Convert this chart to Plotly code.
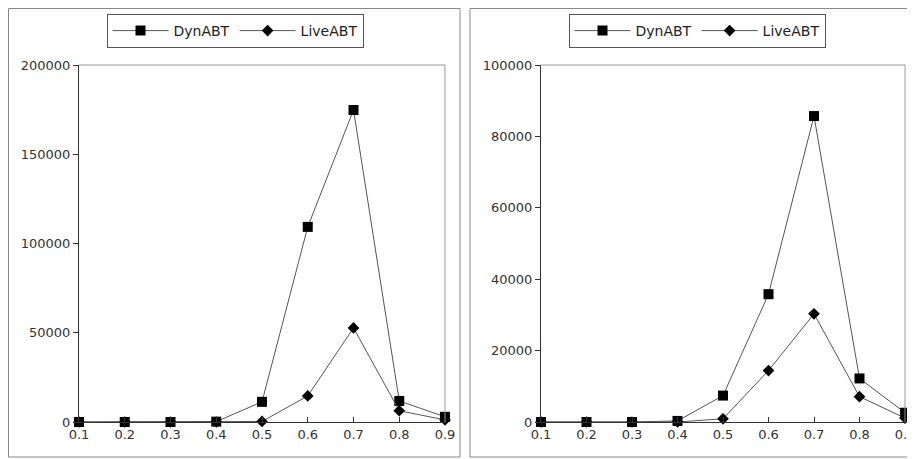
import plotly.graph_objects as go

x_vals = [0.1, 0.2, 0.3, 0.4, 0.5, 0.6, 0.7, 0.8, 0.9]
x_ticks = [0.1, 0.2, 0.3, 0.4, 0.5, 0.6, 0.7, 0.8, 0.9]

dyn_left = [0, 0, 0, 200, 11300, 109300, 174800, 11800, 2900]
live_left = [0, 0, 0, 0, 300, 14600, 52700, 6300, 1200]

dyn_right = [0, 0, 0, 300, 7400, 35800, 85700, 12200, 2600]
live_right = [0, 0, 0, 0, 900, 14400, 30300, 7100, 1100]

left_yticks = [0, 50000, 100000, 150000, 200000]
right_yticks = [0, 20000, 40000, 60000, 80000, 100000]

# page body has an 8px margin; the figure is placed at (8, 8)
OX, OY = 8, 8
W, H = 915 - OX, 459 - OY
FONT = "DejaVu Sans"
LINE_COL = "#555555"

def px(v):
    return (v - OX) / W

def py(v):
    return (H - (v - OY)) / H

fig = go.Figure()

panels = [
    dict(dyn=dyn_left, live=live_left, xa="x", ya="y", leg="legend"),
    dict(dyn=dyn_right, live=live_right, xa="x2", ya="y2", leg="legend2"),
]
for p in panels:
    fig.add_trace(go.Scatter(
        x=x_vals, y=p["dyn"], name="DynABT", mode="lines+markers",
        xaxis=p["xa"], yaxis=p["ya"], legend=p["leg"], cliponaxis=False,
        line=dict(color=LINE_COL, width=1),
        marker=dict(symbol="square", size=10, color="black"),
    ))
    fig.add_trace(go.Scatter(
        x=x_vals, y=p["live"], name="LiveABT", mode="lines+markers",
        xaxis=p["xa"], yaxis=p["ya"], legend=p["leg"], cliponaxis=False,
        line=dict(color=LINE_COL, width=1),
        marker=dict(symbol="diamond", size=9, color="black"),
    ))

axis_common = dict(showgrid=False, zeroline=False, showline=True, automargin=False,
                   linecolor="#333333", linewidth=1, ticklabeloverflow="allow",
                   tickfont=dict(family=FONT, size=13, color="#333333"),
                   ticklen=5, tickcolor="#333333")

legend_common = dict(orientation="h", yanchor="top", xanchor="center",
                     bordercolor="#555555", borderwidth=1, bgcolor="white",
                     itemwidth=56, tracegroupgap=0,
                     font=dict(family=FONT, size=14, color="#222222"))

fig.update_layout(
    width=W, height=H,
    margin=dict(l=0, r=0, t=0, b=0, pad=0, autoexpand=False),
    paper_bgcolor="white", plot_bgcolor="white",
    font=dict(family=FONT, size=13, color="#333333"),
    xaxis=dict(domain=[px(79), px(445)], range=[0.1, 0.9], tickvals=x_ticks,
               ticktext=[f"{t:.1f}" for t in x_ticks], ticks="inside",
               anchor="y", **axis_common),
    yaxis=dict(domain=[py(422), py(65)], range=[0, 200000], tickvals=left_yticks,
               ticktext=[str(t) for t in left_yticks], ticks="outside",
               anchor="x", **axis_common),
    xaxis2=dict(domain=[px(541), px(905)], range=[0.1, 0.9], tickvals=x_ticks,
                ticktext=[f"{t:.1f}" for t in x_ticks], ticks="inside",
                anchor="y2", **axis_common),
    yaxis2=dict(domain=[py(422), py(65)], range=[0, 100000], tickvals=right_yticks,
                ticktext=[str(t) for t in right_yticks], ticks="outside",
                anchor="x2", **axis_common),
    legend=dict(x=px(235), y=py(14), **legend_common),
    legend2=dict(x=px(697), y=py(14), **legend_common),
    showlegend=True,
)

shapes = []
# outer panel borders
shapes.append(dict(type="rect", xref="paper", yref="paper",
                   x0=px(8.5), x1=px(460), y0=py(457), y1=py(8.5),
                   line=dict(color="#888888", width=1)))
shapes.append(dict(type="rect", xref="paper", yref="paper",
                   x0=px(470), x1=px(914), y0=py(457), y1=py(8.5),
                   line=dict(color="#888888", width=1)))
# top and right gray plot-area edges
for xr, yr in [("x domain", "y domain"), ("x2 domain", "y2 domain")]:
    shapes.append(dict(type="line", xref=xr, yref=yr, x0=0, x1=1, y0=1, y1=1,
                       line=dict(color="#999999", width=1)))
    shapes.append(dict(type="line", xref=xr, yref=yr, x0=1, x1=1, y0=0, y1=1,
                       line=dict(color="#999999", width=1)))
fig.update_layout(shapes=shapes)

fig.write_html("out.html")
